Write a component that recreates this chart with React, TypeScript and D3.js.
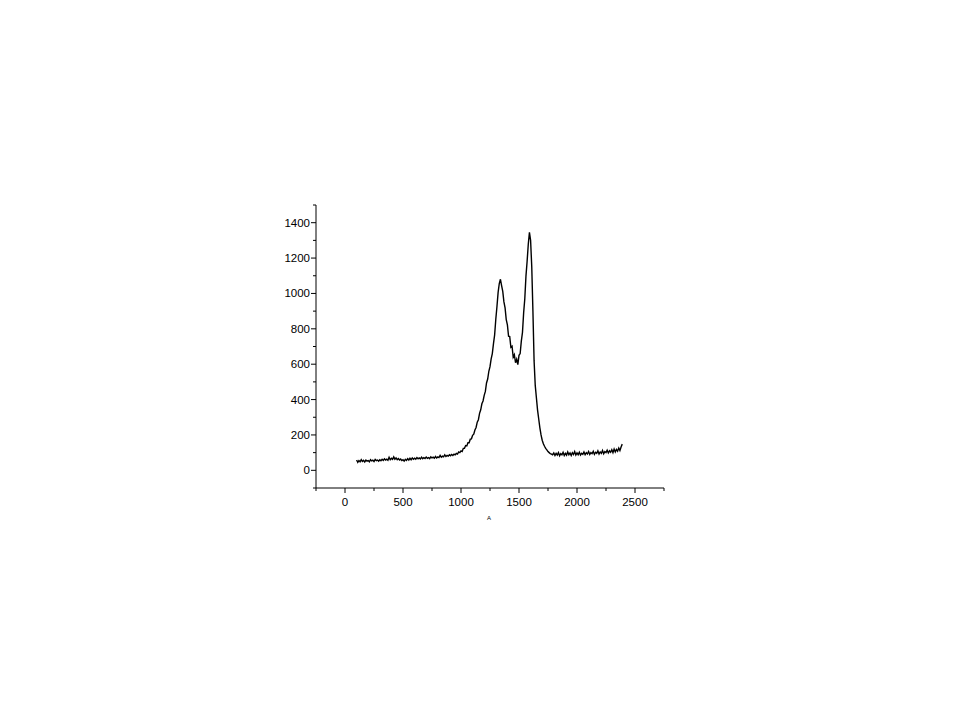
import React from "react";
import * as d3 from "d3";

const xStart = 100;
const xStep = 10;
const intensity: number[] = [
  // 100-190
  58, 45, 55, 48, 60, 50, 56, 47, 58, 52,
  // 200-290
  55, 48, 60, 53, 57, 50, 62, 55, 58, 52,
  // 300-390
  60, 54, 62, 56, 65, 58, 63, 57, 74, 60,
  // 400-490
  68, 62, 76, 63, 70, 60, 66, 58, 64, 55,
  // 500-590
  60, 52, 62, 56, 66, 58, 68, 60, 70, 62,
  // 600-690
  68, 63, 72, 65, 70, 64, 74, 66, 72, 67,
  // 700-790
  75, 68, 72, 66, 76, 70, 74, 68, 78, 70,
  // 800-890
  76, 72, 84, 74, 80, 76, 88, 78, 84, 80,
  // 900-990
  88, 82, 90, 84, 92, 88, 96, 92, 104, 100,
  // 1000-1090
  110, 106, 124, 124, 140, 138, 156, 156, 176, 178,
  // 1100-1190
  198, 204, 228, 242, 272, 286, 322, 342, 376, 392,
  // 1200-1290
  424, 446, 494, 516, 560, 586, 630, 660, 716, 766,
  // 1300-1390
  854, 926, 1006, 1056, 1080, 1044, 1012, 952, 918, 852,
  // 1400-1490
  822, 758, 756, 696, 702, 640, 654, 608, 628, 598,
  // 1500-1590
  650, 660, 730, 780, 890, 970, 1098, 1182, 1278, 1345,
  // 1600-1690
  1300, 1150, 900, 620, 480, 410, 340, 290, 240, 200,
  // 1700-1790
  170, 150, 136, 124, 116, 106, 100, 94, 92, 88,
  // 1800-1890
  98, 84, 96, 86, 100, 82, 94, 88, 102, 84,
  // 1900-1990
  96, 86, 104, 88, 98, 84, 100, 90, 106, 86,
  // 2000-2090
  98, 88, 102, 86, 96, 90, 104, 88, 100, 92,
  // 2100-2190
  106, 90, 100, 94, 108, 90, 102, 96, 110, 92,
  // 2200-2290
  104, 96, 112, 94, 106, 100, 114, 98, 110, 102,
  // 2300-2390
  116, 100, 120, 104, 118, 108, 126, 112, 132, 148,
];

const xTicks = [0, 500, 1000, 1500, 2000, 2500];
const yTicks = [0, 200, 400, 600, 800, 1000, 1200, 1400];
const xMinorTicks = [-250, 250, 750, 1250, 1750, 2250, 2750];
const yMinorTicks = [-100, 100, 300, 500, 700, 900, 1100, 1300, 1500];

export default function App() {
  const left = 316;
  const right = 664;
  const top = 205;
  const bottom = 488;

  const x = d3.scaleLinear().domain([-250, 2750]).range([left, right]);
  const y = d3.scaleLinear().domain([-100, 1500]).range([bottom, top]);

  const data = intensity.map((v, i) => [xStart + i * xStep, v] as [number, number]);
  const line = d3
    .line<[number, number]>()
    .x((d) => x(d[0]))
    .y((d) => y(d[1]));

  const font = "'Liberation Sans', Arial, sans-serif";

  return (
    <svg
      width={960}
      height={720}
      style={{ position: "absolute", left: 0, top: 0, background: "#fff" }}
    >
      <rect x={0} y={0} width={960} height={720} fill="#fff" />
      <line x1={left} x2={left} y1={top} y2={bottom} stroke="#000" strokeWidth={1} />
      <line x1={left} x2={right} y1={bottom} y2={bottom} stroke="#000" strokeWidth={1} />
      {yTicks.map((t) => (
        <g key={"y" + t}>
          <line x1={left - 5} x2={left} y1={y(t)} y2={y(t)} stroke="#000" />
          <text
            x={left - 6}
            y={y(t)}
            textAnchor="end"
            dominantBaseline="central"
            fontFamily={font}
            fontSize={11.5}
            fill="#000"
          >
            {t}
          </text>
        </g>
      ))}
      {yMinorTicks.map((t) => (
        <line key={"ym" + t} x1={left - 3} x2={left} y1={y(t)} y2={y(t)} stroke="#000" />
      ))}
      {xTicks.map((t) => (
        <g key={"x" + t}>
          <line x1={x(t)} x2={x(t)} y1={bottom} y2={bottom + 5} stroke="#000" />
          <text
            x={x(t)}
            y={bottom + 14}
            textAnchor="middle"
            dominantBaseline="central"
            fontFamily={font}
            fontSize={11.5}
            fill="#000"
          >
            {t}
          </text>
        </g>
      ))}
      {xMinorTicks.map((t) => (
        <line key={"xm" + t} x1={x(t)} x2={x(t)} y1={bottom} y2={bottom + 3} stroke="#000" />
      ))}
      <text
        x={489}
        y={520}
        textAnchor="middle"
        fontFamily={font}
        fontSize={6}
        fill="#000"
      >
        A
      </text>
      <path d={line(data) || ""} fill="none" stroke="#000" strokeWidth={1.4} strokeLinejoin="miter" />
    </svg>
  );
}
